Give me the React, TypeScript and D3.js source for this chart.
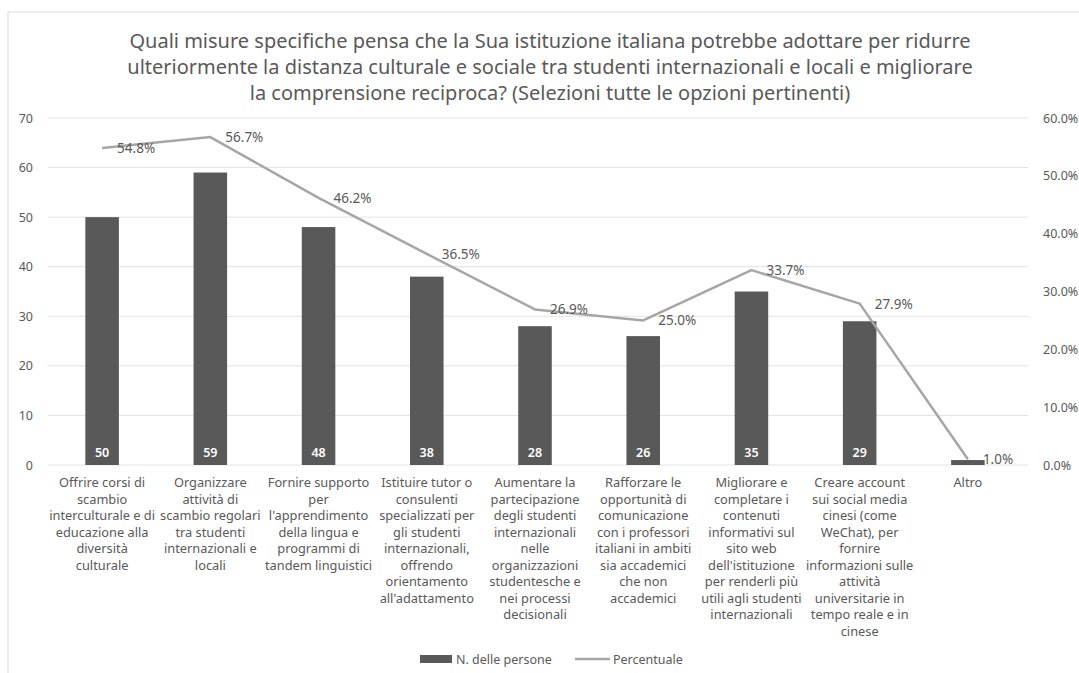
import * as d3 from "d3";

const titleLines = [
    "Quali misure specifiche pensa che la Sua istituzione italiana potrebbe adottare per ridurre",
    "ulteriormente la distanza culturale e sociale tra studenti internazionali e locali e migliorare",
    "la comprensione reciproca? (Selezioni tutte le opzioni pertinenti)",
];

// category labels, already wrapped like the original
const categories = [
    ["Offrire corsi di", "scambio", "interculturale e di", "educazione alla", "diversità", "culturale"],
    ["Organizzare", "attività di", "scambio regolari", "tra studenti", "internazionali e", "locali"],
    ["Fornire supporto", "per", "l'apprendimento", "della lingua e", "programmi di", "tandem linguistici"],
    ["Istituire tutor o", "consulenti", "specializzati per", "gli studenti", "internazionali,", "offrendo", "orientamento", "all'adattamento"],
    ["Aumentare la", "partecipazione", "degli studenti", "internazionali", "nelle", "organizzazioni", "studentesche e", "nei processi", "decisionali"],
    ["Rafforzare le", "opportunità di", "comunicazione", "con i professori", "italiani in ambiti", "sia accademici", "che non", "accademici"],
    ["Migliorare e", "completare i", "contenuti", "informativi sul", "sito web", "dell'istituzione", "per renderli più", "utili agli studenti", "internazionali"],
    ["Creare account", "sui social media", "cinesi (come", "WeChat), per", "fornire", "informazioni sulle", "attività", "universitarie in", "tempo reale e in", "cinese"],
    ["Altro"],
];
const counts = [50, 59, 48, 38, 28, 26, 35, 29, 1];
const percents = [54.8, 56.7, 46.2, 36.5, 26.9, 25.0, 33.7, 27.9, 1.0];
const leftTicks = [0, 10, 20, 30, 40, 50, 60, 70];
const rightTicks = [0, 10, 20, 30, 40, 50, 60];

const W = 1079;
const H = 673;
const left = 48, right = 1022, top = 118, bottom = 465;
const font = "'Noto Sans', sans-serif";
const textColor = "#595959";

export default function App() {
    const x = d3.scaleBand<number>()
        .domain(counts.map((_, i) => i))
        .range([left, right])
        .paddingInner(0.69)
        .paddingOuter(0.345);
    const y = d3.scaleLinear().domain([0, 70]).range([bottom, top]);
    const y2 = d3.scaleLinear().domain([0, 60]).range([bottom, top]);
    const cx = (i: number) => (x(i) ?? 0) + x.bandwidth() / 2;

    const line = d3.line<number>()
        .x((_, i) => cx(i))
        .y(d => y2(d));

    return (
        <svg width={W} height={H} style={{position: "absolute", left: 0, top: 0, fontFamily: font}}>
            <rect x={0} y={0} width={W} height={H} fill="#fff"/>
            <rect x={8} y={12} width={1200} height={800} fill="none" stroke="#d9d9d9"/>

            {/* title */}
            {titleLines.map((t, i) => (
                <text key={i} x={550} y={40 + i * 26} textAnchor="middle" dominantBaseline="central"
                      fontSize={20} fill={textColor}>{t}</text>
            ))}

            {/* gridlines */}
            {leftTicks.map(t => (
                <line key={t} x1={left} x2={1028} y1={y(t)} y2={y(t)} stroke="#e3e3e3" strokeWidth={1}/>
            ))}
            {leftTicks.map(t => (
                <text key={t} x={33} y={y(t)} textAnchor="end" dominantBaseline="central"
                      fontSize={12.5} fill={textColor}>{t}</text>
            ))}
            {rightTicks.map(t => (
                <text key={t} x={1043} y={y2(t)} textAnchor="start" dominantBaseline="central"
                      fontSize={12.5} fill={textColor}>{t.toFixed(1) + "%"}</text>
            ))}

            {/* bars */}
            {counts.map((c, i) => (
                <g key={i}>
                    <rect x={x(i)} y={y(c)} width={x.bandwidth()} height={bottom - y(c)} fill="#595959"/>
                    {c > 5 && (
                        <text x={cx(i)} y={bottom - 13} textAnchor="middle" dominantBaseline="central"
                              fontSize={12.5} fontWeight={600} fill="#fff">{c}</text>
                    )}
                </g>
            ))}

            {/* line */}
            <path d={line(percents) ?? ""} fill="none" stroke="#a6a6a6" strokeWidth={2.5} strokeLinejoin="round"/>
            {percents.map((p, i) => (
                <text key={i} x={cx(i) + 15} y={y2(p)} dominantBaseline="central"
                      fontSize={13.5} fill={textColor}>{p.toFixed(1) + "%"}</text>
            ))}

            {/* category labels */}
            {categories.map((lines, i) => (
                <text key={i} textAnchor="middle" fontSize={12.8} fill={textColor}>
                    {lines.map((l, j) => (
                        <tspan key={j} x={cx(i)} y={482 + j * 16.5} dominantBaseline="central">{l}</tspan>
                    ))}
                </text>
            ))}

            {/* legend */}
            <rect x={420} y={655} width={32} height={8} fill="#595959"/>
            <text x={456} y={659} dominantBaseline="central" fontSize={12.5} fill={textColor}>N. delle persone</text>
            <line x1={575} x2={610} y1={659} y2={659} stroke="#a6a6a6" strokeWidth={2.5}/>
            <text x={613} y={659} dominantBaseline="central" fontSize={12.5} fill={textColor}>Percentuale</text>
        </svg>
    );
}
